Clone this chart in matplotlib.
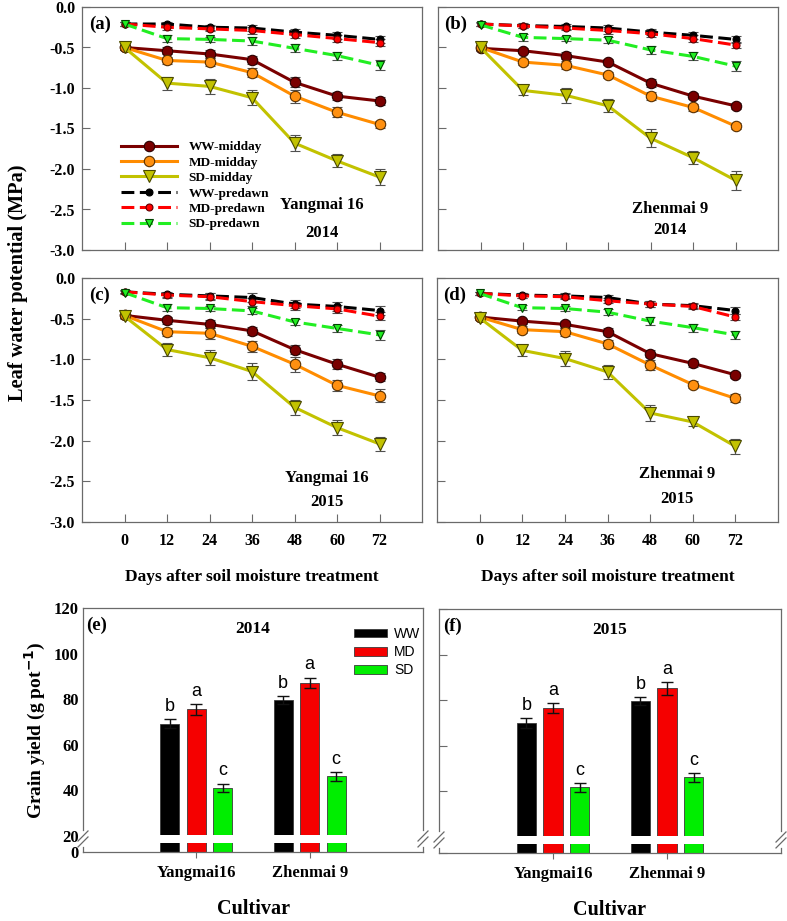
import numpy as np
import matplotlib
matplotlib.use("Agg")
import matplotlib.pyplot as plt
from matplotlib.lines import Line2D

plt.rcParams['axes.unicode_minus'] = False
SERIF = 'Liberation Serif'
SANS = 'Liberation Sans'

# ---------------- data ----------------
DAYS = [0, 12, 24, 36, 48, 60, 72]
SERIES = ['WW-midday', 'MD-midday', 'SD-midday', 'WW-predawn', 'MD-predawn', 'SD-predawn']

A_WW_MID = [-0.50, -0.54, -0.58, -0.65, -0.93, -1.10, -1.16]
A_MD_MID = [-0.50, -0.66, -0.68, -0.81, -1.10, -1.30, -1.45]
A_SD_MID = [-0.50, -0.94, -0.98, -1.12, -1.68, -1.90, -2.10]
A_WW_PRE = [-0.21, -0.21, -0.25, -0.26, -0.31, -0.35, -0.40]
A_MD_PRE = [-0.21, -0.25, -0.27, -0.29, -0.34, -0.39, -0.44]
A_SD_PRE = [-0.21, -0.39, -0.40, -0.42, -0.51, -0.60, -0.72]

B_WW_MID = [-0.51, -0.54, -0.60, -0.68, -0.94, -1.10, -1.22]
B_MD_MID = [-0.50, -0.68, -0.72, -0.84, -1.10, -1.24, -1.47]
B_SD_MID = [-0.50, -1.03, -1.09, -1.22, -1.62, -1.86, -2.14]
B_WW_PRE = [-0.21, -0.23, -0.24, -0.26, -0.31, -0.35, -0.40]
B_MD_PRE = [-0.21, -0.235, -0.26, -0.29, -0.33, -0.39, -0.47]
B_SD_PRE = [-0.22, -0.375, -0.39, -0.41, -0.53, -0.61, -0.73]

C_WW_MID = [-0.46, -0.52, -0.57, -0.65, -0.88, -1.06, -1.22]
C_MD_MID = [-0.46, -0.66, -0.68, -0.84, -1.06, -1.32, -1.45]
C_SD_MID = [-0.47, -0.88, -0.98, -1.15, -1.59, -1.84, -2.04]
C_WW_PRE = [-0.17, -0.20, -0.22, -0.24, -0.32, -0.35, -0.40]
C_MD_PRE = [-0.17, -0.21, -0.23, -0.29, -0.34, -0.38, -0.47]
C_SD_PRE = [-0.18, -0.365, -0.375, -0.405, -0.54, -0.62, -0.70]

D_WW_MID = [-0.48, -0.53, -0.57, -0.66, -0.93, -1.05, -1.19]
D_MD_MID = [-0.48, -0.635, -0.66, -0.81, -1.07, -1.31, -1.48]
D_SD_MID = [-0.49, -0.89, -0.99, -1.155, -1.66, -1.77, -2.07]
D_WW_PRE = [-0.19, -0.21, -0.22, -0.24, -0.32, -0.34, -0.40]
D_MD_PRE = [-0.19, -0.22, -0.23, -0.28, -0.32, -0.35, -0.48]
D_SD_PRE = [-0.19, -0.365, -0.375, -0.42, -0.53, -0.61, -0.70]

# error bars (estimated)
A_WW_MID_ERR = [0.03, 0.04, 0.05, 0.05, 0.06, 0.05, 0.05]
A_MD_MID_ERR = [0.03, 0.04, 0.05, 0.06, 0.08, 0.06, 0.04]
A_SD_MID_ERR = [0.03, 0.08, 0.09, 0.09, 0.10, 0.08, 0.10]
A_PRE_ERR = [0.02, 0.03, 0.03, 0.04, 0.04, 0.04, 0.04]
A_SD_PRE_ERR = [0.02, 0.04, 0.03, 0.05, 0.05, 0.05, 0.06]

B_WW_MID_ERR = [0.03, 0.03, 0.04, 0.04, 0.05, 0.04, 0.04]
B_MD_MID_ERR = [0.03, 0.04, 0.05, 0.04, 0.05, 0.04, 0.04]
B_SD_MID_ERR = [0.03, 0.06, 0.09, 0.08, 0.11, 0.08, 0.12]
B_PRE_ERR = [0.02, 0.03, 0.03, 0.04, 0.04, 0.04, 0.04]
B_SD_PRE_ERR = [0.02, 0.04, 0.03, 0.04, 0.05, 0.05, 0.06]

C_WW_MID_ERR = [0.03, 0.04, 0.05, 0.05, 0.06, 0.06, 0.05]
C_MD_MID_ERR = [0.03, 0.05, 0.07, 0.07, 0.09, 0.07, 0.08]
C_SD_MID_ERR = [0.03, 0.08, 0.09, 0.10, 0.09, 0.09, 0.09]
C_PRE_ERR = [0.02, 0.03, 0.04, 0.05, 0.05, 0.05, 0.05]
C_SD_PRE_ERR = [0.02, 0.04, 0.03, 0.04, 0.04, 0.04, 0.06]

D_WW_MID_ERR = [0.03, 0.03, 0.04, 0.04, 0.04, 0.04, 0.04]
D_MD_MID_ERR = [0.03, 0.04, 0.05, 0.05, 0.06, 0.04, 0.05]
D_SD_MID_ERR = [0.03, 0.07, 0.09, 0.09, 0.10, 0.05, 0.09]
D_PRE_ERR = [0.02, 0.03, 0.03, 0.03, 0.04, 0.03, 0.04]
D_SD_PRE_ERR = [0.02, 0.03, 0.03, 0.04, 0.05, 0.05, 0.05]

CULTIVARS = ['Yangmai16', 'Zhenmai 9']
TREATMENTS = ['WW', 'MD', 'SD']
E_WW = [69.3, 79.6]
E_MD = [75.6, 87.1]
E_SD = [41.2, 46.1]
E_WW_ERR = [2.0, 1.8]
E_MD_ERR = [2.4, 2.4]
E_SD_ERR = [1.8, 1.8]
F_WW = [70.0, 79.6]
F_MD = [76.5, 85.2]
F_SD = [41.8, 46.2]
F_WW_ERR = [2.0, 1.6]
F_MD_ERR = [2.3, 2.8]
F_SD_ERR = [1.9, 2.0]
E_LETTERS = [['b', 'b'], ['a', 'a'], ['c', 'c']]
F_LETTERS = [['b', 'b'], ['a', 'a'], ['c', 'c']]

# ---------------- style ----------------
LINE_STYLE = {
    'WW-midday': dict(color='#7a0000', marker='o', ms=7.5, ls='-', mfc='#7a0000', mec='#2a0000'),
    'MD-midday': dict(color='#ff8c00', marker='o', ms=7.5, ls='-', mfc='#ff9010', mec='#5a3000'),
    'SD-midday': dict(color='#c2c200', marker='v', ms=8.5, ls='-', mfc='#c2c200', mec='#4a4a00'),
    'WW-predawn': dict(color='#000000', marker='o', ms=5, ls=(0, (4.2, 1.8)), mfc='#000000', mec='#000000'),
    'MD-predawn': dict(color='#ff0000', marker='o', ms=5, ls=(0, (4.2, 1.8)), mfc='#ff0000', mec='#600000'),
    'SD-predawn': dict(color='#22ee22', marker='v', ms=5.5, ls=(0, (4.2, 1.8)), mfc='#22ee22', mec='#004400'),
}
BAR_COLORS = ['#000000', '#f50000', '#00ee00']
SPINE_C = '#6a6a6a'
ERR_C = '#505050'

W, H = 787, 921
fig = plt.figure(figsize=(W / 100, H / 100), dpi=100)


def px_axes(x0, y0, x1, y1):
    return fig.add_axes([x0 / W, 1 - y1 / H, (x1 - x0) / W, (y1 - y0) / H])


def style_line_axes(ax, show_ylab, show_xlab):
    ax.set_xlim(-12, 84)
    ax.set_ylim(-3.0, 0.0)
    ax.set_xticks(DAYS)
    ax.set_yticks(np.arange(-3.0, 0.01, 0.5))
    ax.set_yticklabels(['%.1f' % v for v in np.arange(-3.0, 0.01, 0.5)] if show_ylab else [])
    ax.set_xticklabels([str(d) for d in DAYS] if show_xlab else [])
    ax.tick_params(direction='in', length=6, width=0.8, color=SPINE_C, pad=5)
    ax.tick_params(axis='x', pad=8)
    for lab in ax.get_xticklabels() + ax.get_yticklabels():
        lab.set_fontfamily(SERIF)
        lab.set_fontweight('bold')
        lab.set_fontsize(11.5)
    for s in ax.spines.values():
        s.set_color(SPINE_C)
        s.set_linewidth(0.9)


def draw_lines(ax, vals, errs):
    for name, v, e in zip(SERIES, vals, errs):
        st = LINE_STYLE[name]
        ax.errorbar(DAYS, v, yerr=e, color=st['color'], ls=st['ls'], lw=2.2,
                    marker=st['marker'], ms=st['ms'], mfc=st['mfc'], mec=st['mec'],
                    mew=0.8, ecolor=ERR_C, elinewidth=0.9, capsize=3.5, capthick=0.9,
                    label=name, zorder=3)


panels = [
    ('(a)', (82, 7, 422, 250), [A_WW_MID, A_MD_MID, A_SD_MID, A_WW_PRE, A_MD_PRE, A_SD_PRE],
     [A_WW_MID_ERR, A_MD_MID_ERR, A_SD_MID_ERR, A_PRE_ERR, A_PRE_ERR, A_SD_PRE_ERR],
     'Yangmai 16', '2014', True, False, (322, 205, 233)),
    ('(b)', (438, 7, 778, 250), [B_WW_MID, B_MD_MID, B_SD_MID, B_WW_PRE, B_MD_PRE, B_SD_PRE],
     [B_WW_MID_ERR, B_MD_MID_ERR, B_SD_MID_ERR, B_PRE_ERR, B_PRE_ERR, B_SD_PRE_ERR],
     'Zhenmai 9', '2014', False, False, (670, 209, 230)),
    ('(c)', (82, 278, 422, 522), [C_WW_MID, C_MD_MID, C_SD_MID, C_WW_PRE, C_MD_PRE, C_SD_PRE],
     [C_WW_MID_ERR, C_MD_MID_ERR, C_SD_MID_ERR, C_PRE_ERR, C_PRE_ERR, C_SD_PRE_ERR],
     'Yangmai 16', '2015', True, True, (327, 478, 502)),
    ('(d)', (437, 278, 778, 522), [D_WW_MID, D_MD_MID, D_SD_MID, D_WW_PRE, D_MD_PRE, D_SD_PRE],
     [D_WW_MID_ERR, D_MD_MID_ERR, D_SD_MID_ERR, D_PRE_ERR, D_PRE_ERR, D_SD_PRE_ERR],
     'Zhenmai 9', '2015', False, True, (677, 474, 499)),
]

for lab, box, vals, errs, cult, year, ylab, xlab, tpos in panels:
    ax = px_axes(*box)
    draw_lines(ax, vals, errs)
    style_line_axes(ax, ylab, xlab)
    ax.text(18 / (box[2] - box[0]), 1 - 17 / (box[3] - box[1]), lab, transform=ax.transAxes,
            fontfamily=SERIF, fontweight='bold', fontsize=13.5, ha='center', va='center')
    fig.text(tpos[0] / W, 1 - tpos[1] / H, cult, fontfamily=SERIF, fontweight='bold',
             fontsize=12, ha='center', va='center')
    fig.text(tpos[0] / W, 1 - tpos[2] / H, year, fontfamily=SERIF, fontweight='bold',
             fontsize=12, ha='center', va='center')
    if xlab:
        ax.set_xlabel('Days after soil moisture treatment', fontfamily=SERIF,
                      fontweight='bold', fontsize=12.5, labelpad=14)
    if lab == '(a)':
        leg_handles = []
        for name in SERIES:
            st = LINE_STYLE[name]
            leg_handles.append(Line2D([], [], color=st['color'], ls=st['ls'], lw=2.2,
                                      marker=st['marker'], ms=st['ms'], mfc=st['mfc'],
                                      mec=st['mec'], mew=0.8))
        ax.legend(leg_handles, SERIES, loc='upper left', bbox_to_anchor=(0.1, 0.47),
                  frameon=False, handlelength=4.2, handletextpad=0.9, labelspacing=0.24,
                  borderaxespad=0, prop=dict(family=SERIF, weight='bold', size=9.5))

fig.text(18 / W, 1 - 283 / H, 'Leaf water potential (MPa)', rotation=90, fontfamily=SERIF,
         fontweight='bold', fontsize=14.7, ha='center', va='center')

# ---------------- bar panels ----------------
K = 0.351  # compression of the 0-20 segment


def fwd(y):
    y = np.asarray(y, float)
    return np.where(y < 20, y * K, 20 * K + (y - 20))


def inv(t):
    t = np.asarray(t, float)
    return np.where(t < 20 * K, t / K, t - 20 * K + 20)


bar_panels = [
    ('(e)', '2014', (83, 608, 423, 852), [E_WW, E_MD, E_SD], [E_WW_ERR, E_MD_ERR, E_SD_ERR], E_LETTERS, True),
    ('(f)', '2015', (439, 609, 781, 853), [F_WW, F_MD, F_SD], [F_WW_ERR, F_MD_ERR, F_SD_ERR], F_LETTERS, False),
]

bw = 0.167
offs = [-0.233, 0.0, 0.233]
for lab, year, box, vals, errs, letters, first in bar_panels:
    ax = px_axes(*box)
    ax.set_yscale('function', functions=(fwd, inv))
    xs = np.arange(1, len(CULTIVARS) + 1)
    for i, (v, e) in enumerate(zip(vals, errs)):
        ax.bar(xs + offs[i], v, width=bw, color=BAR_COLORS[i], edgecolor='#3a3a3a',
               linewidth=0.6, zorder=2, label=TREATMENTS[i])
        ax.errorbar(xs + offs[i], v, yerr=e, fmt='none', ecolor='#111111', elinewidth=1.0,
                    capsize=4, capthick=1.0, zorder=3)
        for j in range(len(xs)):
            ax.annotate(letters[i][j], (xs[j] + offs[i], v[j] + e[j]), xytext=(0, 3),
                        textcoords='offset points', ha='center', va='bottom',
                        fontfamily=SANS, fontsize=13, zorder=4)
    ax.axhspan(11.3, 20.4, color='white', zorder=2.5, lw=0)
    ax.set_xlim(0, 3)
    ax.set_ylim(0, 120)
    ax.set_yticks([0, 20, 40, 60, 80, 100, 120])
    ax.set_xticks(xs)
    ax.set_xticklabels(CULTIVARS, fontfamily=SERIF, fontweight='bold', fontsize=12)
    ax.tick_params(axis='x', direction='out', length=4, width=0.8, color=SPINE_C, pad=5)
    ax.tick_params(axis='y', direction='in', length=6, width=0.8, color=SPINE_C, pad=3)
    if first:
        ax.set_yticklabels(['0', '20', '40', '60', '80', '100', '120'], fontfamily=SERIF,
                           fontweight='bold', fontsize=12)
        ax.set_ylabel('Grain yield (g pot$^{\\mathbf{-1}}$)', fontfamily=SERIF,
                      fontweight='bold', fontsize=14, labelpad=4)
        ax.yaxis.set_tick_params(length=0)
        ax.legend(loc='upper left', bbox_to_anchor=(0.78, 0.945), frameon=False,
                  handlelength=2.4, handleheight=0.6, handletextpad=0.5, labelspacing=0.3,
                  borderaxespad=0, prop=dict(family=SANS, size=10))
    else:
        ax.set_yticklabels([])
    ax.set_xlabel('Cultivar', fontfamily=SERIF, fontweight='bold', fontsize=14.5, labelpad=13)
    for s in ['top', 'bottom']:
        ax.spines[s].set_color(SPINE_C)
        ax.spines[s].set_linewidth(0.9)
    ax.spines['left'].set_visible(False)
    ax.spines['right'].set_visible(False)
    for xa in (0, 1):
        tr = ax.get_yaxis_transform()
        ax.plot([xa, xa], [22.5, 120], color=SPINE_C, lw=0.9, transform=tr, clip_on=False, zorder=5)
        ax.plot([xa, xa], [0, 6.2], color=SPINE_C, lw=0.9, transform=tr, clip_on=False, zorder=5)
        dx = 5.0 / (box[2] - box[0])
        ax.plot([xa - dx, xa + dx], [13.7, 22.2], color=SPINE_C, lw=0.9, transform=tr,
                clip_on=False, zorder=5)
        ax.plot([xa - dx, xa + dx], [6.3, 18.8], color=SPINE_C, lw=0.9, transform=tr,
                clip_on=False, zorder=5)
    ax.text(14 / (box[2] - box[0]), 1 - 17 / (box[3] - box[1]), lab, transform=ax.transAxes,
            fontfamily=SERIF, fontweight='bold', fontsize=13.5, ha='center', va='center')
    ax.text(0.5, 1 - 21 / (box[3] - box[1]), year, transform=ax.transAxes,
            fontfamily=SERIF, fontweight='bold', fontsize=12.5, ha='center', va='center')

fig.savefig('out.png', dpi=100)
